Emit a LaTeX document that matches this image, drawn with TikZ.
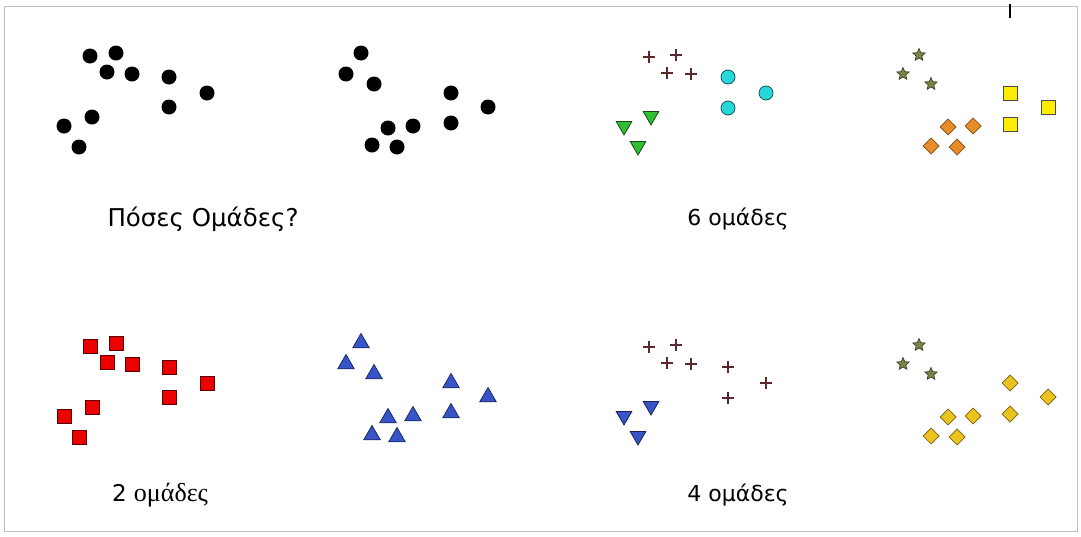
\documentclass[tikz,border=0pt]{standalone}
\usepackage{fontspec}
\setmainfont{DejaVu Sans}
\newfontfamily\grserif{Liberation Serif}
\usetikzlibrary{shapes.geometric,shapes.misc}

\definecolor{plusbrown}{RGB}{90,40,45}
\definecolor{cyanfill}{RGB}{40,215,220}
\definecolor{greenfill}{RGB}{50,190,50}
\definecolor{olivestar}{RGB}{125,130,70}
\definecolor{orangefill}{RGB}{230,140,40}
\definecolor{goldfill}{RGB}{235,195,30}
\definecolor{bluefill}{RGB}{55,85,200}

\tikzset{
	mark0/.style={inner sep=0pt, outer sep=0pt},
	blackdot/.style={mark0, circle, fill=black, minimum size=15},
	redsq/.style={mark0, rectangle, fill=red!92!black, draw=red!35!black, line width=0.8, minimum size=14},
	bluetri/.style={mark0, regular polygon, regular polygon sides=3, fill=bluefill, draw=bluefill!50!black, line width=0.8, minimum size=19},
	downtri/.style={mark0, regular polygon, regular polygon sides=3, shape border rotate=180, line width=0.8, minimum size=18},
	plusmark/.style={mark0, cross out, rotate=45, draw=plusbrown, line width=2.1, minimum size=8.5},
	cyandot/.style={mark0, circle, fill=cyanfill, draw=cyanfill!40!black, line width=0.8, minimum size=14},
	starmark/.style={mark0, star, star points=5, star point ratio=2.2, fill=olivestar, draw=olivestar!50!black, line width=0.7, minimum size=13},
	yellowsq/.style={mark0, rectangle, fill=yellow!95!orange, draw=black!70, line width=0.9, minimum size=14},
	diamondmark/.style={mark0, diamond, line width=0.7, minimum size=16},
	label/.style={font=\fontsize{22}{26}\selectfont, inner sep=0pt}
}

\begin{document}
\begin{tikzpicture}[x=1pt,y=-1pt]
	\useasboundingbox (0,0) rectangle (1081,536);
	\draw[black!25, line width=0.8] (4,6) rectangle (1077,531);
	\draw[line width=1.2] (1010,4) -- (1010,18);

	% Πάνω σειρά
	\begin{scope}[shift={(0,0)}]
		\foreach \x/\y [count=\i] in {90/56,116/53,107/72,132/74,169/77,207/93,169/107,92/117,64/126,79/147}
			\node[blackdot] (a\i) at (\x,\y) {};
		\foreach \x/\y [count=\i] in {361/53,346/74,374/84,451/93,488/107,451/123,388/128,413/126,372/145,397/147}
			\node[blackdot] (b\i) at (\x,\y) {};

		\foreach \x/\y [count=\i] in {649/57,676/55,667/73,691/74}
			\node[plusmark] (c\i) at (\x,\y) {};
		\foreach \x/\y [count=\i] in {728/77,766/93,728/108}
			\node[cyandot] (cc\i) at (\x,\y) {};
		\foreach \x/\y [count=\i] in {651/116,624/126,638/146}
			\node[downtri, fill=greenfill, draw=greenfill!40!black] (cg\i) at (\x,\y) {};

		\foreach \x/\y [count=\i] in {919/55,903/74,931/84}
			\node[starmark] (d\i) at (\x,\y) {};
		\foreach \x/\y [count=\i] in {1010/93,1048/107,1010/124}
			\node[yellowsq] (dy\i) at (\x,\y) {};
		\foreach \x/\y [count=\i] in {948/127,973/126,931/146,957/147}
			\node[diamondmark, fill=orangefill, draw=orangefill!55!black] (do\i) at (\x,\y) {};

		\node[label, font=\fontsize{24.5}{28}\selectfont] (q) at (203,219) {Πόσες Ομάδες?};
		\node[label] (six) at (738,219) {6 ομάδες};
	\end{scope}

	% Κάτω σειρά
	\begin{scope}[shift={(0,290)}]
		\foreach \x/\y [count=\i] in {90/56,116/53,107/72,132/74,169/77,207/93,169/107,92/117,64/126,79/147}
			\node[redsq] (e\i) at (\x,\y) {};
		\foreach \x/\y [count=\i] in {361/53,346/74,374/84,451/93,488/107,451/123,388/128,413/126,372/145,397/147}
			\node[bluetri] (f\i) at (\x,\y) {};

		\foreach \x/\y [count=\i] in {649/57,676/55,667/73,691/74,728/77,766/93,728/108}
			\node[plusmark] (g\i) at (\x,\y) {};
		\foreach \x/\y [count=\i] in {651/116,624/126,638/146}
			\node[downtri, fill=bluefill, draw=bluefill!40!black] (gb\i) at (\x,\y) {};

		\foreach \x/\y [count=\i] in {919/55,903/74,931/84}
			\node[starmark] (h\i) at (\x,\y) {};
		\foreach \x/\y [count=\i] in {1010/93,1048/107,1010/124,948/127,973/126,931/146,957/147}
			\node[diamondmark, fill=goldfill, draw=goldfill!50!black] (hd\i) at (\x,\y) {};

		\node[label, font=\fontsize{23}{27}\selectfont] (two) at (160,205) {2 {\grserif\fontsize{26}{30}\selectfont ομάδες}};
		\node[label] (four) at (738,205) {4 ομάδες};
	\end{scope}
\end{tikzpicture}
\end{document}
